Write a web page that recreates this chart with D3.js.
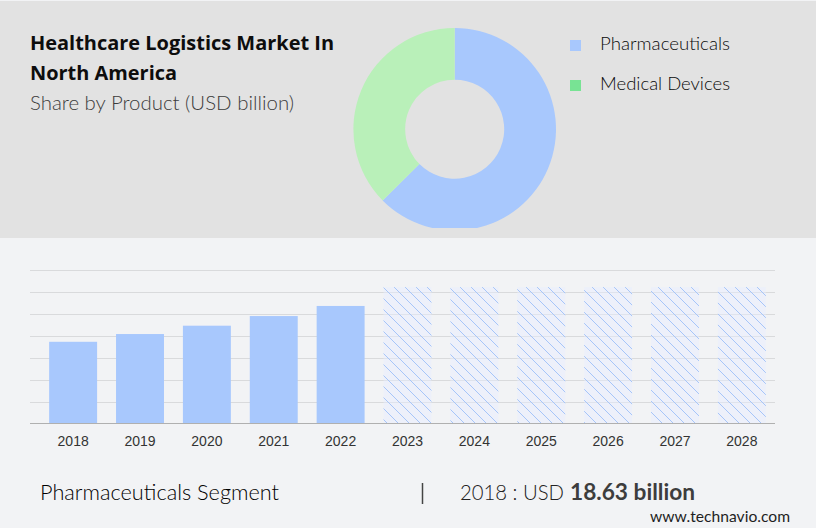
<!DOCTYPE html>
<html><head><meta charset="utf-8">
<script src="https://cdn.jsdelivr.net/npm/d3@7"></script>
<style>html,body{margin:0;padding:0;background:#f2f3f5}svg{display:block}</style>
</head><body><svg id="c" width="816" height="528"></svg>
<script>
const years=["2018","2019","2020","2021","2022","2023","2024","2025","2026","2027","2028"];
const actualValues=[18.63,20.4,22.3,24.5,26.8];
const forecastPlaceholder=[31.1,31.1,31.1,31.1,31.1,31.1];
const yTicks=[0,5,10,15,20,25,30,35];
const shareNames=["Pharmaceuticals","Medical Devices"];
const shareValues=[62.6,37.4];
const sliceColors=["#a8c8fd","#b9f0b9"];
const legendColors=["#a8c8fd","#78e394"];
const titleLines=["Healthcare Logistics Market In","North America"];
const subtitle="Share by Product (USD billion)";

const svg=d3.select("#c");
const defs=svg.append("defs");
svg.append("rect").attr("width",816).attr("height",528).attr("fill","#f2f3f5");
svg.append("rect").attr("y",1).attr("width",816).attr("height",237).attr("fill","#e2e2e2");

// hatch
const p=defs.append("pattern").attr("id","hatch").attr("patternUnits","userSpaceOnUse")
 .attr("width",11).attr("height",11).attr("x",383).attr("y",287);
p.append("rect").attr("width",11).attr("height",11).attr("fill","#e6eeff").attr("fill-opacity",0.45);
p.append("path").attr("d","M-2,-2L13,13M-2,9L2,13M9,-2L13,2").attr("stroke","#a6c5f9").attr("stroke-width",1).attr("fill","none");
defs.append("clipPath").attr("id","dc").append("rect").attr("x",340).attr("y",0).attr("width",240).attr("height",228);

// titles
const t=svg.append("g").attr("font-family","'Open Sans','Noto Sans',sans-serif").attr("font-weight",700).attr("font-size",20).attr("fill","#0d0d0d");
titleLines.forEach((s,i)=>t.append("text").attr("x",30).attr("y",[50,80][i]).text(s)
 .attr("textLength",[304,147][i]).attr("lengthAdjust","spacingAndGlyphs"));
svg.append("text").attr("x",30).attr("y",110).attr("font-family","Lato,sans-serif").attr("font-weight",300).attr("font-size",20).attr("fill","#3c3c3c")
 .attr("textLength",264).attr("lengthAdjust","spacingAndGlyphs").text(subtitle);

// donut
const pie=d3.pie().sort(null)(shareValues);
const arc=d3.arc().innerRadius(49.5).outerRadius(101.3);
svg.append("g").attr("clip-path","url(#dc)").append("g").attr("transform","translate(454.7,129.2)")
 .selectAll("path").data(pie).join("path").attr("d",arc).attr("fill",(d,i)=>sliceColors[i]);

// legend
const lg=svg.append("g").selectAll("g").data(shareNames).join("g").attr("transform",(d,i)=>`translate(570,${[40,80][i]})`);
lg.append("rect").attr("width",11).attr("height",11).attr("fill",(d,i)=>legendColors[i]);
lg.append("text").attr("x",30).attr("y",10).attr("font-family","Lato,sans-serif").attr("font-weight",300).attr("font-size",17).attr("fill","#0a0a0a")
 .attr("textLength",130).attr("lengthAdjust","spacingAndGlyphs").text(d=>d);

// bars
const x=d3.scaleBand().domain(years).range([40,775]).paddingInner(0.283).paddingOuter(0.137);
const y=d3.scaleLinear().domain([0,35]).range([423.5,270]);
const grid=svg.append("g");
grid.selectAll("line").data(yTicks.slice(1)).join("line").attr("x1",30).attr("x2",775)
 .attr("y1",d=>Math.round(y(d))+.5).attr("y2",d=>Math.round(y(d))+.5).attr("stroke","#d9dadc").attr("stroke-width",1);
svg.append("g").selectAll("rect").data(forecastPlaceholder).join("rect")
 .attr("x",(d,i)=>x(years[i+5])).attr("width",x.bandwidth()).attr("y",d=>y(d)).attr("height",d=>y(0)-y(d))
 .attr("fill","url(#hatch)");
svg.append("g").selectAll("rect").data(actualValues).join("rect")
 .attr("x",(d,i)=>x(years[i])).attr("width",x.bandwidth()).attr("y",d=>y(d)).attr("height",d=>y(0)-y(d))
 .attr("fill","#a8c8fd");
const ax=svg.append("g").attr("transform","translate(0,423.5)").call(d3.axisBottom(x).tickSize(0).tickPadding(13));
ax.select(".domain").remove();
svg.append("line").attr("x1",30).attr("x2",775).attr("y1",423.5).attr("y2",423.5).attr("stroke","#b0b0b0").attr("stroke-width",1);
ax.selectAll("text").attr("font-family","'Liberation Sans',sans-serif").attr("font-size",14).attr("fill","#333");

// footer
const cond=(x0,yy,w,s,size,fill,weight)=>svg.append("text").attr("x",x0).attr("y",yy).attr("font-family","Lato,sans-serif")
 .attr("font-size",size).attr("fill",fill).attr("font-weight",weight||300).attr("textLength",w).attr("lengthAdjust","spacingAndGlyphs").text(s);
cond(40,500,239,"Pharmaceuticals Segment",22,"#000");
svg.append("line").attr("x1",422.5).attr("x2",422.5).attr("y1",483).attr("y2",504).attr("stroke","#444").attr("stroke-width",1.5);
cond(460,500,104,"2018 : USD",22,"#222");
cond(570,500,125,"18.63 billion",22,"#3d3d3d",700);
cond(650,522,140,"www.technavio.com",16,"#1f1f1f",400);
</script></body></html>
